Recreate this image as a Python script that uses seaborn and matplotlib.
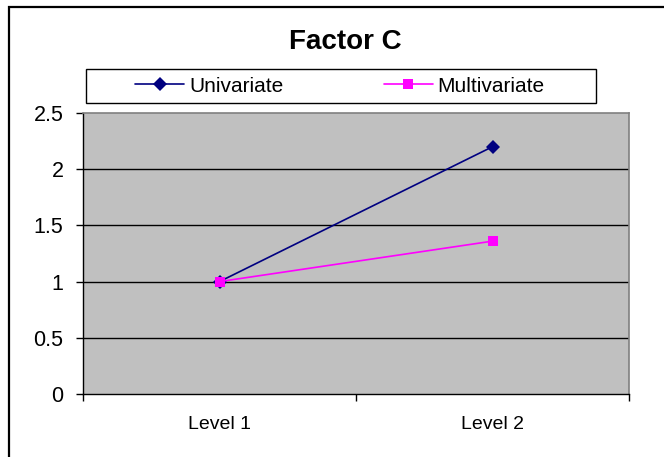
import matplotlib
matplotlib.use("Agg")
import matplotlib.pyplot as plt
from matplotlib.lines import Line2D
from matplotlib.patches import Rectangle
import seaborn as sns
import pandas as pd

# Chart values
levels = ["Level 1", "Level 2"]
univariate = [1.0, 2.2]
multivariate = [1.0, 1.36]
series_names = ["Univariate", "Multivariate"]
y_ticks = [0, 0.5, 1, 1.5, 2, 2.5]
y_tick_labels = ["0", "0.5", "1", "1.5", "2", "2.5"]

df = pd.DataFrame({
    "level": levels * 2,
    "value": univariate + multivariate,
    "series": [series_names[0]] * len(levels) + [series_names[1]] * len(levels),
})

sns.set_theme(style="white")
plt.rcParams["font.family"] = ["Liberation Sans", "DejaVu Sans"]

colors = {"Univariate": "#000080", "Multivariate": "#FF00FF"}
markers = {"Univariate": "D", "Multivariate": "s"}

fig = plt.figure(figsize=(6.64, 4.57), dpi=100)
fig.patch.set_facecolor("white")
ax = fig.add_axes([83 / 664, 1 - 394 / 457, (629 - 83) / 664, (394 - 113) / 457])
ax.set_facecolor("#C0C0C0")

sns.lineplot(data=df, x="level", y="value", hue="series", style="series",
             palette=colors, markers=markers, dashes=False, ax=ax,
             linewidth=1.2, markersize=7.5, markeredgewidth=0, legend=False)

ax.set_xlim(-0.5, 1.5)
ax.set_ylim(0, 2.5)
ax.set_xlabel("")
ax.set_ylabel("")

ax.set_yticks(y_ticks)
ax.set_yticklabels(y_tick_labels, fontsize=15.5)
ax.set_xticks(range(len(levels)))
ax.set_xticklabels(levels, fontsize=14)
ax.set_xticks([-0.5, 0.5, 1.5], minor=True)
ax.tick_params(axis="x", which="major", length=0, pad=16, labelsize=14)
ax.tick_params(axis="x", which="minor", length=5, width=1, color="black", direction="out", bottom=True)
ax.tick_params(axis="y", length=5, width=1, color="black", direction="out", pad=9, left=True)
for lab in ax.get_xticklabels() + ax.get_yticklabels():
    lab.set_color("black")

for y in y_ticks[1:-1]:
    ax.axhline(y, color="black", linewidth=1, zorder=0.5)

for side in ["left", "bottom"]:
    ax.spines[side].set_color("black")
    ax.spines[side].set_linewidth(1)
for side in ["top", "right"]:
    ax.spines[side].set_color("#808080")
    ax.spines[side].set_linewidth(1.2)
    ax.spines[side].set_visible(True)

# Title
fig.text(345 / 664, 1 - 42 / 457, "Factor C", ha="center", va="center",
         fontsize=20, fontweight="bold", color="black")

# Legend frame and entries
fig.patches.append(Rectangle((86 / 664, 1 - 103 / 457), (596 - 86) / 664, (103 - 69) / 457,
                             transform=fig.transFigure, facecolor="white",
                             edgecolor="black", linewidth=1))
handles = [Line2D([], [], color=colors[n], marker=markers[n], markersize=7.5,
                  markeredgewidth=0, linewidth=1.2) for n in series_names]
fig.legend(handles, series_names, loc="center", ncol=2,
           bbox_to_anchor=(340 / 664, 1 - 86 / 457), frameon=False,
           fontsize=15, handlelength=2.35, handletextpad=0.25,
           columnspacing=4.8, borderpad=0, labelcolor="black")

# Outer chart border
fig.patches.append(Rectangle((9 / 664, -0.1), 1.2, 1 - 7 / 457 + 0.1,
                             transform=fig.transFigure, facecolor="none",
                             edgecolor="black", linewidth=1.6))

fig.savefig("out.png", dpi=100)
